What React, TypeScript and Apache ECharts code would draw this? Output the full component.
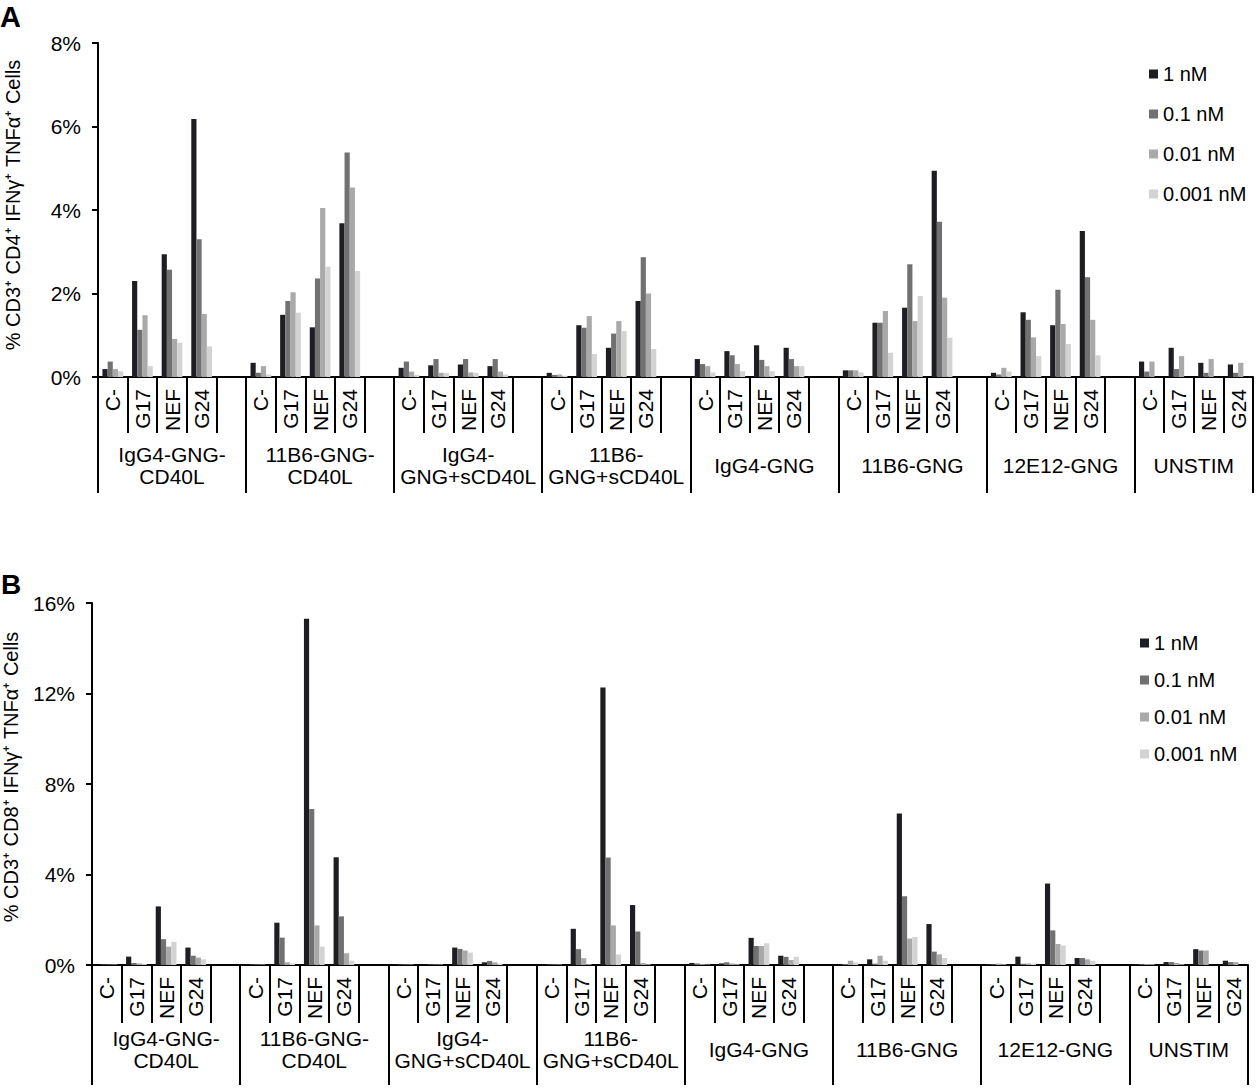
import React, { useEffect, useRef } from "react";
import * as echarts from "echarts";

const GROUPS = [
  "IgG4-GNG-\nCD40L",
  "11B6-GNG-\nCD40L",
  "IgG4-\nGNG+sCD40L",
  "11B6-\nGNG+sCD40L",
  "IgG4-GNG",
  "11B6-GNG",
  "12E12-GNG",
  "UNSTIM",
];
const SUBS = ["C-", "G17", "NEF", "G24"];
const SERIES_NAMES = ["1 nM", "0.1 nM", "0.01 nM", "0.001 nM"];
const COLORS = ["#1c1e21", "#717171", "#a9a9a9", "#d3d3d3"];

// Panel A (% CD3+ CD4+ IFNγ+ TNFα+), 8 groups x (C-, G17, NEF, G24)
const A_1NM = [0.19, 2.30, 2.94, 6.18, 0.34, 1.49, 1.19, 3.68, 0.22, 0.28, 0.30, 0.26, 0.10, 1.24, 0.70, 1.82, 0.43, 0.62, 0.76, 0.70, 0.16, 1.30, 1.66, 4.94, 0.10, 1.55, 1.24, 3.50, 0.37, 0.70, 0.34, 0.30];
const A_01NM = [0.37, 1.13, 2.57, 3.30, 0.10, 1.82, 2.36, 5.38, 0.37, 0.43, 0.43, 0.43, 0.05, 1.18, 1.04, 2.87, 0.31, 0.52, 0.41, 0.43, 0.16, 1.30, 2.70, 3.72, 0.06, 1.37, 2.09, 2.39, 0.13, 0.19, 0.10, 0.10];
const A_001NM = [0.19, 1.48, 0.91, 1.51, 0.26, 2.03, 4.05, 4.54, 0.13, 0.10, 0.11, 0.13, 0.06, 1.46, 1.34, 2.00, 0.26, 0.31, 0.26, 0.26, 0.16, 1.58, 1.34, 1.90, 0.22, 0.95, 1.27, 1.37, 0.37, 0.50, 0.43, 0.34];
const A_0001NM = [0.14, 0.26, 0.82, 0.73, 0.06, 1.54, 2.64, 2.54, 0.05, 0.10, 0.10, 0.06, 0.03, 0.55, 1.10, 0.67, 0.11, 0.14, 0.14, 0.26, 0.11, 0.58, 1.94, 0.94, 0.13, 0.50, 0.79, 0.52, 0, 0, 0, 0];

// Panel B (% CD3+ CD8+ IFNγ+ TNFα+)
const B_1NM = [0.02, 0.37, 2.59, 0.77, 0.02, 1.87, 15.3, 4.76, 0.02, 0.02, 0.77, 0.12, 0.02, 1.60, 12.27, 2.65, 0.09, 0.07, 1.20, 0.41, 0.03, 0.25, 6.7, 1.81, 0.04, 0.37, 3.60, 0.31, 0.03, 0.13, 0.70, 0.19];
const B_01NM = [0.02, 0.09, 1.14, 0.41, 0.02, 1.21, 6.9, 2.15, 0.02, 0.02, 0.71, 0.18, 0.02, 0.70, 4.75, 1.48, 0.07, 0.12, 0.84, 0.36, 0.04, 0.06, 3.04, 0.59, 0.03, 0.06, 1.53, 0.31, 0.03, 0.13, 0.64, 0.13];
const B_001NM = [0.02, 0.07, 0.81, 0.33, 0.02, 0.12, 1.75, 0.52, 0.02, 0.02, 0.64, 0.12, 0.02, 0.30, 1.75, 0.09, 0.04, 0.07, 0.84, 0.22, 0.19, 0.41, 1.17, 0.47, 0.06, 0.07, 0.93, 0.25, 0.04, 0.09, 0.64, 0.13];
const B_0001NM = [0.02, 0.04, 1.02, 0.25, 0.02, 0.07, 0.81, 0.19, 0.02, 0.02, 0.55, 0.06, 0.02, 0.03, 0.47, 0.03, 0.02, 0.03, 0.96, 0.36, 0.12, 0.19, 1.24, 0.31, 0.03, 0.06, 0.86, 0.19, 0.03, 0.03, 0, 0];

const A_Y = { max: 8, interval: 2 };
const B_Y = { max: 16, interval: 4 };

const FONT = "'Liberation Sans', Arial, Helvetica, sans-serif";

// category slots: 4 subcategories per group + a blank spacer between groups
const CATEGORIES: string[] = [];
GROUPS.forEach((g, gi) => {
  SUBS.forEach((s) => CATEGORIES.push(g + "|" + s));
  if (gi < GROUPS.length - 1) CATEGORIES.push(g + "|");
});
const GROUP_BOUNDS: number[] = [0];
{
  let p = 0;
  GROUPS.forEach((_, gi) => {
    p += gi < GROUPS.length - 1 ? SUBS.length + 1 : SUBS.length;
    GROUP_BOUNDS.push(p);
  });
}
const GROUP_CENTERS = GROUPS.map((_, gi) => (GROUP_BOUNDS[gi] + GROUP_BOUNDS[gi + 1]) / 2);

function expand(values: number[]) {
  const out: (number | null)[] = [];
  let k = 0;
  GROUPS.forEach((_, gi) => {
    for (let j = 0; j < SUBS.length; j++) out.push(values[k++]);
    if (gi < GROUPS.length - 1) out.push(null);
  });
  return out;
}

function buildPanel(
  idx: number,
  cfg: {
    left: number;
    top: number;
    width: number;
    height: number;
    yMax: number;
    yInterval: number;
    subLen: number;
    grpLen: number;
    grpMargin: number;
    data: number[][];
  }
) {
  const grid = { left: cfg.left, top: cfg.top, width: cfg.width, height: cfg.height, containLabel: false };
  const black = { color: "#000", width: 2 };
  const xCat = {
    gridIndex: idx,
    type: "category",
    data: CATEGORIES,
    boundaryGap: true,
    axisLine: { show: true, lineStyle: black },
    axisTick: { show: true, interval: 0, length: cfg.subLen, lineStyle: black },
    axisLabel: {
      interval: 0,
      rotate: 90,
      margin: 12,
      fontSize: 21,
      fontFamily: FONT,
      color: "#000",
      formatter: (v: string) => v.split("|")[1] || "",
    },
    splitLine: { show: false },
  };
  const xGrp = {
    gridIndex: idx,
    type: "value",
    position: "bottom",
    offset: 0,
    min: 0,
    max: CATEGORIES.length,
    axisLine: { show: false },
    splitLine: { show: false },
    axisTick: { show: true, customValues: GROUP_BOUNDS, length: cfg.grpLen, lineStyle: black },
    axisLabel: {
      show: true,
      customValues: GROUP_CENTERS,
      margin: cfg.grpMargin,
      verticalAlign: "middle",
      align: "center",
      fontSize: 21,
      lineHeight: 22,
      fontFamily: FONT,
      color: "#000",
      hideOverlap: false,
      formatter: (v: number) => {
        const i = GROUP_CENTERS.findIndex((c) => Math.abs(c - v) < 1e-6);
        return i >= 0 ? GROUPS[i] : "";
      },
    },
  };
  const y = {
    gridIndex: idx,
    type: "value",
    min: 0,
    max: cfg.yMax,
    interval: cfg.yInterval,
    axisLine: { show: true, lineStyle: black },
    axisTick: { show: true, length: 6, lineStyle: black },
    axisLabel: { formatter: "{value}%", fontSize: 21, fontFamily: FONT, color: "#000", margin: 17 },
    splitLine: { show: false },
  };
  const series = SERIES_NAMES.map((name, si) => ({
    name,
    type: "bar",
    xAxisIndex: idx * 2,
    yAxisIndex: idx,
    data: expand(cfg.data[si]),
    barGap: "0%",
    barCategoryGap: "30%",
    itemStyle: { color: COLORS[si] },
    emphasis: { disabled: true },
  }));
  return { grid, xAxes: [xCat, xGrp], y, series };
}

export default function App() {
  const ref = useRef<HTMLDivElement>(null);
  useEffect(() => {
    if (!ref.current) return;
    const chart = echarts.init(ref.current, undefined, { renderer: "svg" });
    const pA = buildPanel(0, {
      left: 98,
      top: 43,
      width: 1155,
      height: 334,
      yMax: A_Y.max,
      yInterval: A_Y.interval,
      subLen: 56,
      grpLen: 116,
      grpMargin: 88,
      data: [A_1NM, A_01NM, A_001NM, A_0001NM],
    });
    const pB = buildPanel(1, {
      left: 92,
      top: 603,
      width: 1156,
      height: 362,
      yMax: B_Y.max,
      yInterval: B_Y.interval,
      subLen: 58,
      grpLen: 120,
      grpMargin: 84,
      data: [B_1NM, B_01NM, B_001NM, B_0001NM],
    });
    const legendBase = {
      data: SERIES_NAMES,
      orient: "vertical",
      icon: "rect",
      itemWidth: 9,
      itemHeight: 9,
      selectedMode: false,
      textStyle: { fontSize: 20, fontFamily: FONT, color: "#000", lineHeight: 20 },
    };
    const titleStyle = { fontSize: 20, fontFamily: FONT, fill: "#000", align: "center", verticalAlign: "middle" };
    chart.setOption({
      animation: false,
      backgroundColor: "#fff",
      grid: [pA.grid, pB.grid],
      xAxis: [...pA.xAxes, ...pB.xAxes],
      yAxis: [pA.y, pB.y],
      series: [...pA.series, ...pB.series],
      legend: [
        { ...legendBase, left: 1144, top: 59, itemGap: 20 },
        { ...legendBase, left: 1135, top: 628, itemGap: 17 },
      ],
      graphic: [
        { type: "text", left: 0, top: 2, style: { text: "A", fontSize: 29, fontWeight: "bold", fontFamily: FONT, fill: "#000" } },
        { type: "text", left: 1, top: 570, style: { text: "B", fontSize: 28, fontWeight: "bold", fontFamily: FONT, fill: "#000" } },
        {
          type: "text",
          x: 13,
          y: 205,
          rotation: Math.PI / 2,
          style: { ...titleStyle, text: "% CD3⁺ CD4⁺ IFNγ⁺ TNFα⁺ Cells" },
        },
        {
          type: "text",
          x: 11,
          y: 777,
          rotation: Math.PI / 2,
          style: { ...titleStyle, text: "% CD3⁺ CD8⁺ IFNγ⁺ TNFα⁺ Cells" },
        },
      ],
    });
    return () => chart.dispose();
  }, []);
  return (
    <div
      ref={ref}
      style={{ position: "absolute", left: 0, top: 0, width: 1257, height: 1088, background: "#fff" }}
    />
  );
}
